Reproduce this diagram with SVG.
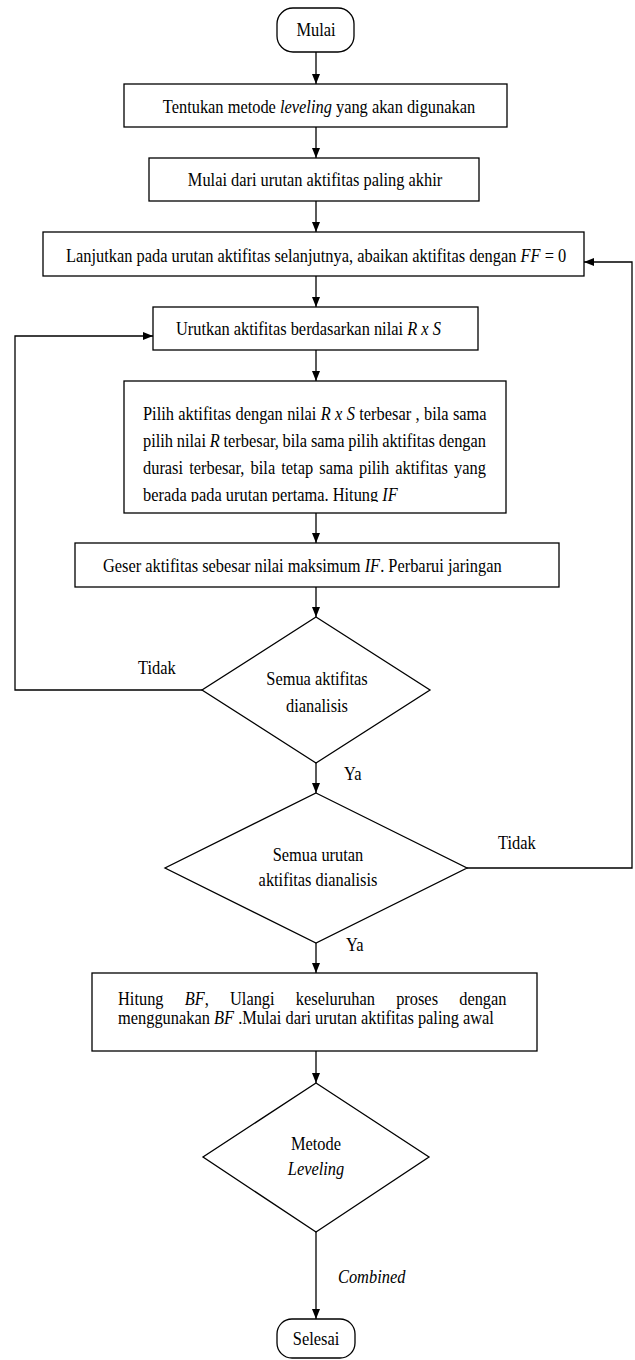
<svg xmlns="http://www.w3.org/2000/svg" width="635" height="1360" viewBox="0 0 635 1360">
<style>
.box{fill:#fff;stroke:#000;stroke-width:1.3}
.conn{fill:none;stroke:#000;stroke-width:1.3}
.t{font-family:"Liberation Serif","Times New Roman",serif;font-size:19px;fill:#000}
.c{text-anchor:middle}
.i{font-style:italic}
</style>
<defs>
<marker id="arr" markerUnits="userSpaceOnUse" markerWidth="10" markerHeight="8" refX="10" refY="4" orient="auto">
<path d="M0,0 L10,4 L0,8 z" fill="#000"/>
</marker>
<clipPath id="clip5"><rect x="124" y="381" width="382" height="121"/></clipPath>
</defs>
<rect width="635" height="1360" fill="#fff"/>

<g id="connectors">
<path class="conn" d="M316,52 V84" marker-end="url(#arr)"/>
<path class="conn" d="M316,127 V158" marker-end="url(#arr)"/>
<path class="conn" d="M316,201 V232" marker-end="url(#arr)"/>
<path class="conn" d="M316,276 V307" marker-end="url(#arr)"/>
<path class="conn" d="M316,350 V381" marker-end="url(#arr)"/>
<path class="conn" d="M316,513 V543" marker-end="url(#arr)"/>
<path class="conn" d="M316,587 V617" marker-end="url(#arr)"/>
<path class="conn" d="M316,763 V793" marker-end="url(#arr)"/>
<path class="conn" d="M316,943 V973" marker-end="url(#arr)"/>
<path class="conn" d="M316,1051 V1083" marker-end="url(#arr)"/>
<path class="conn" d="M316,1232 V1319" marker-end="url(#arr)"/>
<path class="conn" d="M202,690 H15 V336 H153" marker-end="url(#arr)"/>
<path class="conn" d="M467,868 H632 V262 H584" marker-end="url(#arr)"/>
<g id="edge-labels">
<text class="t" transform="translate(138 674) scale(.863 1)">Tidak</text>
<text class="t" transform="translate(344 780) scale(.863 1)">Ya</text>
<text class="t" transform="translate(498 849) scale(.863 1)">Tidak</text>
<text class="t" transform="translate(346 951) scale(.863 1)">Ya</text>
<text class="t i" transform="translate(338 1283) scale(.863 1)">Combined</text>
</g>
</g>

<g id="n-start">
<rect class="box" x="277" y="8" width="77" height="44" rx="16"/>
<text class="t c" transform="translate(316 36) scale(.863 1)">Mulai</text>
</g>

<g id="n-metode">
<rect class="box" x="124" y="84" width="383" height="43"/>
<text class="t c" transform="translate(319 113) scale(.863 1)">Tentukan metode <tspan class="i">leveling</tspan> yang akan digunakan</text>
</g>

<g id="n-akhir">
<rect class="box" x="149" y="158" width="330" height="43"/>
<text class="t c" transform="translate(315 186) scale(.863 1)">Mulai dari urutan aktifitas paling akhir</text>
</g>

<g id="n-lanjut">
<rect class="box" x="43" y="232" width="541" height="44"/>
<text class="t" transform="translate(66 262) scale(.863 1)">Lanjutkan pada urutan aktifitas selanjutnya, abaikan aktifitas dengan <tspan class="i">FF</tspan> = 0</text>
</g>

<g id="n-urutkan">
<rect class="box" x="153" y="307" width="325" height="43"/>
<text class="t" transform="translate(176 335) scale(.863 1)">Urutkan aktifitas berdasarkan nilai <tspan class="i">R x S</tspan></text>
</g>

<g id="n-pilih">
<rect class="box" x="124" y="381" width="382" height="132"/>
<g clip-path="url(#clip5)">
<text class="t" transform="translate(143 420) scale(.863 1)" word-spacing="0.32">Pilih aktifitas dengan nilai <tspan class="i">R x S</tspan> terbesar , bila sama</text>
<text class="t" transform="translate(143 447) scale(.863 1)" word-spacing="-0.38">pilih nilai <tspan class="i">R</tspan> terbesar, bila sama pilih aktifitas dengan</text>
<text class="t" transform="translate(143 474) scale(.863 1)" word-spacing="2.35">durasi terbesar, bila tetap sama pilih aktifitas yang</text>
<text class="t" transform="translate(143 501) scale(.863 1)">berada pada urutan pertama. Hitung <tspan class="i">IF</tspan></text>
</g>
</g>

<g id="n-geser">
<rect class="box" x="75" y="543" width="484" height="44"/>
<text class="t" transform="translate(103 572) scale(.863 1)">Geser aktifitas sebesar nilai maksimum <tspan class="i">IF</tspan>. Perbarui jaringan</text>
</g>

<g id="n-dec1">
<polygon class="box" points="316,617 430,690 316,763 202,690"/>
<text class="t c" transform="translate(317 685) scale(.863 1)">Semua aktifitas</text>
<text class="t c" transform="translate(317 712) scale(.863 1)">dianalisis</text>
</g>

<g id="n-dec2">
<polygon class="box" points="316,793 467,868 316,943 165,868"/>
<text class="t c" transform="translate(318 861) scale(.863 1)">Semua urutan</text>
<text class="t c" transform="translate(318 886) scale(.863 1)">aktifitas dianalisis</text>
</g>

<g id="n-hitung">
<rect class="box" x="92" y="973" width="445" height="78"/>
<text class="t" transform="translate(118 1005) scale(.863 1)" word-spacing="19.8">Hitung <tspan class="i">BF</tspan>, Ulangi keseluruhan proses dengan</text>
<text class="t" transform="translate(118 1024) scale(.863 1)">menggunakan <tspan class="i">BF</tspan> .Mulai dari urutan aktifitas paling awal</text>
</g>

<g id="n-dec3">
<polygon class="box" points="316,1083 429,1157 316,1232 203,1157"/>
<text class="t c" transform="translate(316 1150) scale(.863 1)">Metode</text>
<text class="t c i" transform="translate(316 1175) scale(.863 1)">Leveling</text>
</g>

<g id="n-end">
<rect class="box" x="277" y="1319" width="78" height="39" rx="15"/>
<text class="t c" transform="translate(316 1345) scale(.863 1)">Selesai</text>
</g>
</svg>
